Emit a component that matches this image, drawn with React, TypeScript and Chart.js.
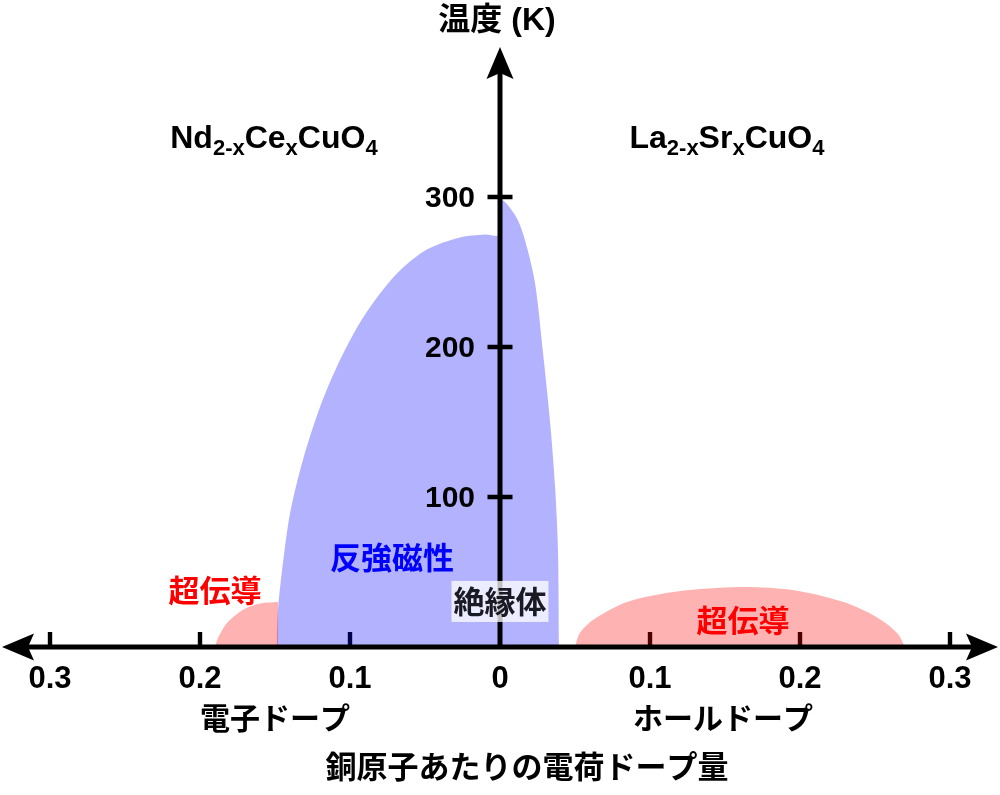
import React, { useEffect, useRef } from 'react';
import { Chart, registerables } from 'chart.js';

Chart.register(...registerables);

// ---------- data ----------
const xTickValues = [-0.3, -0.2, -0.1, 0, 0.1, 0.2, 0.3];
const xTickLabels = ['0.3', '0.2', '0.1', '0', '0.1', '0.2', '0.3'];
const yTickValues = [100, 200, 300];
const yTickLabels = ['100', '200', '300'];

// antiferromagnetic (insulating) region: doping (negative = electron), temperature (K)
const afmDoping = [-0.149, -0.148, -0.1453, -0.14, -0.1313, -0.12, -0.1087, -0.0953, -0.082, -0.0667, -0.0487, -0.0267, -0.01, 0, 0, 0.004, 0.0117, 0.017, 0.0233, 0.0287, 0.0333, 0.0367, 0.0387, 0.0393];
const afmTemp = [0, 25, 51, 89, 125, 160, 187, 213, 233, 251, 265, 273, 275, 275, 298, 296, 285, 270, 243, 196, 151, 107, 63, 0];

// superconducting dome, electron-doped side
const scElecDoping = [-0.19, -0.188, -0.182, -0.171, -0.16, -0.148];
const scElecTemp = [0, 6, 16, 25, 29, 30];

// superconducting dome, hole-doped side
const scHoleDoping = [0.05, 0.053, 0.062, 0.0847, 0.118, 0.16, 0.195, 0.229, 0.251, 0.265, 0.27];
const scHoleTemp = [0, 9, 18, 30, 37, 40, 38, 30, 20, 9, 0];

const yAxisTitle = '温度 (K)';
const electronLabel = '電子ドープ';
const holeLabel = 'ホールドープ';
const xAxisTitle = '銅原子あたりの電荷ドープ量';
const scLabel = '超伝導';
const afmLabel = '反強磁性';
const insLabel = '絶縁体';
const formulaElectron: [string, boolean][] = [['Nd', false], ['2-x', true], ['Ce', false], ['x', true], ['CuO', false], ['4', true]];
const formulaHole: [string, boolean][] = [['La', false], ['2-x', true], ['Sr', false], ['x', true], ['CuO', false], ['4', true]];

const LATIN = '"Liberation Sans", Arial, Helvetica, sans-serif';
const CJK = '"Noto Sans CJK JP", "Noto Sans CJK SC", sans-serif';
const MIXED = '"Liberation Sans", "Noto Sans CJK JP", sans-serif';

const toPoints = (xs: number[], ys: number[]) => xs.map((v, i) => ({ x: v, y: ys[i] }));

function drawFormula(ctx: CanvasRenderingContext2D, parts: [string, boolean][], cx: number, baseline: number) {
  const mainFont = `bold 32px ${LATIN}`;
  const subFont = `bold 22px ${LATIN}`;
  let total = 0;
  parts.forEach(([t, sub]) => {
    ctx.font = sub ? subFont : mainFont;
    total += ctx.measureText(t).width;
  });
  let x = cx - total / 2;
  ctx.textAlign = 'left';
  ctx.textBaseline = 'alphabetic';
  parts.forEach(([t, sub]) => {
    ctx.font = sub ? subFont : mainFont;
    ctx.fillText(t, x, sub ? baseline + 7 : baseline);
    x += ctx.measureText(t).width;
  });
}

function arrowHead(ctx: CanvasRenderingContext2D, tipX: number, tipY: number, dirX: number, dirY: number) {
  const len = 32, half = 13.5, notch = 6;
  const bx = tipX - dirX * len, by = tipY - dirY * len;
  const nx = -dirY, ny = dirX;
  ctx.beginPath();
  ctx.moveTo(tipX, tipY);
  ctx.lineTo(bx + nx * half, by + ny * half);
  ctx.lineTo(tipX - dirX * (len - notch), tipY - dirY * (len - notch));
  ctx.lineTo(bx - nx * half, by - ny * half);
  ctx.closePath();
  ctx.fill();
}

const decorPlugin = {
  id: 'phaseDecor',
  beforeDatasetsDraw(chart: any) {
    const { ctx, scales } = chart;
    const xs = scales.x, ys = scales.y;
    const y0 = ys.getPixelForValue(0);
    ctx.save();
    ctx.fillStyle = '#000';
    xTickValues.forEach((v) => {
      if (v === 0) return;
      const px = xs.getPixelForValue(v);
      ctx.fillRect(px - 2.2, y0 - 15, 4.4, 15);
    });
    ctx.restore();
  },
  afterDatasetsDraw(chart: any) {
    const { ctx, scales } = chart;
    const xs = scales.x, ys = scales.y;
    const x0 = xs.getPixelForValue(0);
    const y0 = ys.getPixelForValue(0);
    ctx.save();
    ctx.fillStyle = '#000';
    ctx.strokeStyle = '#000';
    ctx.lineWidth = 5;
    // x axis
    ctx.beginPath();
    ctx.moveTo(20, y0);
    ctx.lineTo(980, y0);
    ctx.stroke();
    arrowHead(ctx, 2, y0, -1, 0);
    arrowHead(ctx, 998, y0, 1, 0);
    // y axis
    ctx.beginPath();
    ctx.moveTo(x0, y0);
    ctx.lineTo(x0, 65);
    ctx.stroke();
    arrowHead(ctx, x0, 47, 0, -1);
    // y ticks
    yTickValues.forEach((v) => {
      const py = ys.getPixelForValue(v);
      ctx.fillRect(x0 - 12.5, py - 2.25, 25, 4.5);
    });
    // y tick labels
    ctx.font = `bold 30px ${LATIN}`;
    ctx.textAlign = 'right';
    ctx.textBaseline = 'alphabetic';
    yTickValues.forEach((v, i) => {
      const py = ys.getPixelForValue(v);
      ctx.fillText(yTickLabels[i], x0 - 25, py + 10.5);
    });
    // x tick labels
    ctx.font = `bold 31px ${LATIN}`;
    ctx.textAlign = 'center';
    xTickValues.forEach((v, i) => {
      const px = xs.getPixelForValue(v);
      ctx.fillText(xTickLabels[i], px, y0 + 41);
    });

    // axis titles
    ctx.font = `bold 32px ${MIXED}`;
    ctx.textAlign = 'center';
    ctx.fillText(yAxisTitle, xs.getPixelForValue(-0.002), ys.getPixelForValue(419.3) + 12);
    ctx.font = `bold 30px ${CJK}`;
    ctx.fillText(electronLabel, xs.getPixelForValue(-0.15), ys.getPixelForValue(-46.7) + 11.5);
    ctx.fillText(holeLabel, xs.getPixelForValue(0.1487), ys.getPixelForValue(-46.7) + 11.5);
    ctx.font = `bold 31px ${CJK}`;
    ctx.fillText(xAxisTitle, xs.getPixelForValue(0.018), ys.getPixelForValue(-79.3) + 12);

    // compound formulas
    ctx.fillStyle = '#000';
    drawFormula(ctx, formulaElectron, xs.getPixelForValue(-0.1507), ys.getPixelForValue(332.7));
    drawFormula(ctx, formulaHole, xs.getPixelForValue(0.1513), ys.getPixelForValue(332.7));

    // region labels
    ctx.font = `bold 31px ${CJK}`;
    ctx.textAlign = 'center';
    ctx.fillStyle = '#ff0000';
    ctx.fillText(scLabel, xs.getPixelForValue(-0.19), ys.getPixelForValue(38) + 12);
    ctx.fillText(scLabel, xs.getPixelForValue(0.162), ys.getPixelForValue(18) + 12);
    ctx.fillStyle = '#0000ff';
    ctx.fillText(afmLabel, xs.getPixelForValue(-0.072), ys.getPixelForValue(60) + 12);

    // insulator label with translucent box
    const ix = xs.getPixelForValue(0);
    const iy = ys.getPixelForValue(30.7);
    const w = ctx.measureText(insLabel).width;
    ctx.fillStyle = 'rgba(255,255,255,0.75)';
    ctx.fillRect(ix - w / 2 - 2, iy - 20, w + 4, 41);
    ctx.fillStyle = '#1a1a24';
    ctx.fillText(insLabel, ix, iy + 12);
    ctx.restore();
  },
};

export default function App() {
  const ref = useRef<HTMLCanvasElement>(null);
  useEffect(() => {
    document.body.style.margin = '0';
    const canvas = ref.current;
    if (!canvas) return;
    const common = { borderWidth: 0, borderColor: 'rgba(0,0,0,0)', pointRadius: 0, fill: 'origin', tension: 0.3 };
    const chart = new Chart(canvas, {
      type: 'line',
      data: {
        datasets: [
          { ...common, label: '超伝導(電子)', data: toPoints(scElecDoping, scElecTemp), backgroundColor: 'rgba(255,0,0,0.3)' },
          { ...common, label: '超伝導(ホール)', data: toPoints(scHoleDoping, scHoleTemp), backgroundColor: 'rgba(255,0,0,0.3)' },
          { ...common, label: '反強磁性', data: toPoints(afmDoping, afmTemp), backgroundColor: 'rgba(0,0,255,0.3)' },
        ] as any,
      },
      options: {
        responsive: false,
        animation: false,
        devicePixelRatio: 1,
        events: [],
        layout: { padding: 0 },
        plugins: { legend: { display: false }, tooltip: { enabled: false } },
        scales: {
          x: { type: 'linear', min: -1 / 3, max: 1 / 3, display: false },
          y: { type: 'linear', min: -98.667, max: 431.333, display: false },
        },
      },
      plugins: [decorPlugin],
    });
    return () => chart.destroy();
  }, []);
  return (
    <div style={{ position: 'fixed', left: 0, top: 0, width: 1000, height: 795, background: '#fff' }}>
      <canvas ref={ref} width={1000} height={795} style={{ display: 'block', width: 1000, height: 795 }} />
    </div>
  );
}
